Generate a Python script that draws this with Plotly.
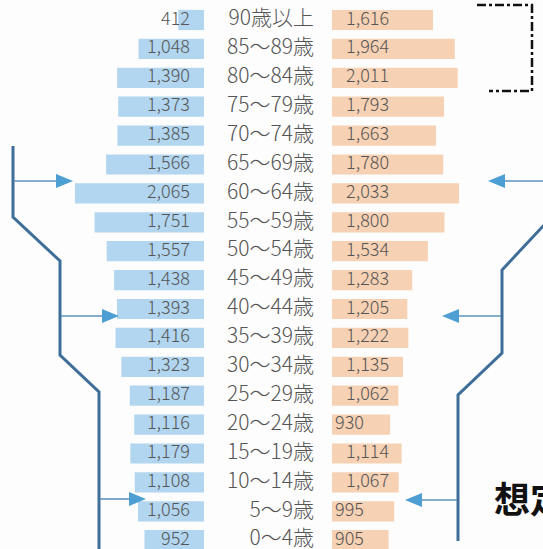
import plotly.graph_objects as go

# ---- data ----
age_groups = ["90歳以上", "85～89歳", "80～84歳", "75～79歳", "70～74歳", "65～69歳",
              "60～64歳", "55～59歳", "50～54歳", "45～49歳", "40～44歳", "35～39歳",
              "30～34歳", "25～29歳", "20～24歳", "15～19歳", "10～14歳", "5～9歳", "0～4歳"]
male = [412, 1048, 1390, 1373, 1385, 1566, 2065, 1751, 1557, 1438, 1393, 1416,
        1323, 1187, 1116, 1179, 1108, 1056, 952]
female = [1616, 1964, 2011, 1793, 1663, 1780, 2033, 1800, 1534, 1283, 1205, 1222,
          1135, 1062, 930, 1114, 1067, 995, 905]

W, H = 543, 549
UPX = 16.0            # data units per pixel
CX = 268              # pixel x of centre
HALF_GAP = 64 * UPX   # half gap between the two bar groups (data units)
ROW = 28.9
Y0 = 20

ys = list(range(len(age_groups)))
x_range = [-CX * UPX, (W - CX) * UPX]
y_range = [18 + (H - (Y0 + 18 * ROW)) / ROW, -Y0 / ROW]

BLUE = "#b2d6ef"
PEACH = "#f6d1b4"
TXT = "#555555"
FONT = "Noto Sans CJK JP"

fig = go.Figure()
fig.add_trace(go.Bar(y=ys, x=[-v for v in male], base=-HALF_GAP, orientation="h",
                     marker=dict(color=BLUE, line=dict(width=0)), width=0.7,
                     hoverinfo="skip", showlegend=False))
fig.add_trace(go.Bar(y=ys, x=female, base=HALF_GAP, orientation="h",
                     marker=dict(color=PEACH, line=dict(width=0)), width=0.7,
                     hoverinfo="skip", showlegend=False))

# value labels
fig.add_trace(go.Scatter(y=ys, x=[-HALF_GAP - 14 * UPX] * len(ys), mode="text",
                         text=[f"{v:,}" for v in male], textposition="middle left",
                         textfont=dict(family=FONT, size=18, color=TXT, weight=300),
                         hoverinfo="skip", showlegend=False))
fig.add_trace(go.Scatter(y=ys,
                         x=[HALF_GAP + (14 if v >= 1000 else 3) * UPX for v in female],
                         mode="text",
                         text=[f"{v:,}" for v in female], textposition="middle right",
                         textfont=dict(family=FONT, size=18, color=TXT, weight=300),
                         hoverinfo="skip", showlegend=False))
# age labels (right aligned at pixel 313)
fig.add_trace(go.Scatter(y=ys, x=[(314 - CX) * UPX] * len(ys), mode="text",
                         text=age_groups, textposition="middle left",
                         textfont=dict(family=FONT, size=21, color=TXT, weight=300),
                         hoverinfo="skip", showlegend=False))


def px(x):
    return x / W


def py(y):
    return 1 - y / H


shapes = []
LINE = "#3f6f98"
ARW = "#4d9fd3"


def path(points, color, width, dash="solid"):
    d = "M " + " L ".join(f"{px(x):.5f},{py(y):.5f}" for x, y in points)
    shapes.append(dict(type="path", path=d, xref="paper", yref="paper",
                       line=dict(color=color, width=width, dash=dash)))


def arrow(x0, x1, y, head=17):
    sgn = 1 if x1 > x0 else -1
    hb = x1 - sgn * head
    path([(x0, y), (hb, y)], "#5d93bd", 1.6)
    d = (f"M {px(hb):.5f},{py(y - 7):.5f} L {px(x1):.5f},{py(y):.5f} "
         f"L {px(hb):.5f},{py(y + 7):.5f} Z")
    shapes.append(dict(type="path", path=d, xref="paper", yref="paper",
                       fillcolor=ARW, line=dict(color=ARW, width=0)))


# left bracket
path([(13, 146), (13, 217), (60, 261), (60, 355), (99, 392), (99, 549)], LINE, 3)
arrow(14, 73, 181)
arrow(61, 119, 316)
arrow(100, 146, 499)
# right bracket
path([(545, 224), (502, 270), (502, 353), (458, 395), (458, 541)], LINE, 3)
arrow(543, 488, 181)
arrow(501, 442, 316)
arrow(457, 405, 500)
# dashed top-right bracket
path([(477, 5), (532, 5), (532, 91), (489, 91)], "#111111", 2.5, dash="dashdot")

fig.update_layout(
    width=W, height=H, margin=dict(l=0, r=0, t=0, b=0),
    paper_bgcolor="#fdfdfd", plot_bgcolor="rgba(0,0,0,0)",
    barmode="overlay", shapes=shapes,
    xaxis=dict(range=x_range, visible=False, fixedrange=True),
    yaxis=dict(range=y_range, visible=False, fixedrange=True),
    annotations=[dict(text="<b>想定</b>", x=px(492), y=py(497), xref="paper", yref="paper",
                      xanchor="left", yanchor="middle", showarrow=False,
                      font=dict(family=FONT, size=36, color="#111111", weight=900))],
)

fig.write_html("out.html", config={"displayModeBar": False},
               post_script="document.body.style.margin='0';document.body.style.overflow='hidden';")
